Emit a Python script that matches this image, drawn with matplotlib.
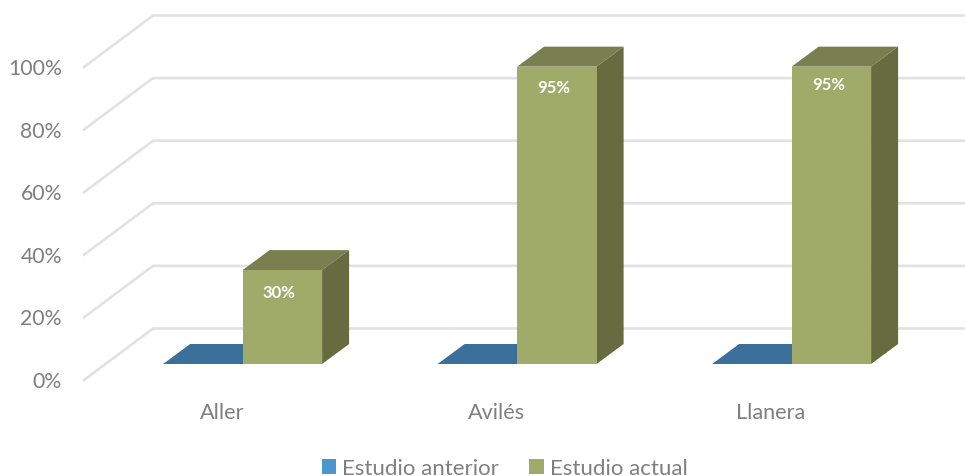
import matplotlib
matplotlib.use("Agg")
import matplotlib.pyplot as plt
from matplotlib.patches import Polygon

plt.rcParams['font.family'] = ['Lato', 'DejaVu Sans']

categories = ["Aller", "Avilés", "Llanera"]
estudio_anterior = [0, 0, 0]
estudio_actual = [30, 95, 95]
label_drop_px = [22, 20, 17]
y_ticks = [0, 20, 40, 60, 80, 100]

W, H = 965, 477
PX_PER_CAT = 274.5
PX_PER_PCT = 3.13
X0 = 222.0      # pixel of category 0
Y0 = 365.0      # pixel of 0 % in the bar plane
BAR_W = 79.5 / PX_PER_CAT
DX, DY = 27 / PX_PER_CAT, 20 / PX_PER_PCT   # depth of a bar
GRID_COL = "#e2e2e2"
TXT_COL = "#7f7f7f"
fig = plt.figure(figsize=(W / 100, H / 100), dpi=100)
ax = fig.add_axes([0, 0, 1, 1])
ax.set_xlim(-X0 / PX_PER_CAT, (W - X0) / PX_PER_CAT)
ax.set_ylim((Y0 - H) / PX_PER_PCT, Y0 / PX_PER_PCT)
ax.axis("off")

cx = lambda p: (p - X0) / PX_PER_CAT
# Walls
back_dy = (Y0 - 329.5) / PX_PER_PCT
front_dy = (Y0 - 381) / PX_PER_PCT
for t in y_ticks:
    ax.plot([cx(84), cx(153), cx(965)],
            [t + front_dy, t + back_dy, t + back_dy],
            color=GRID_COL, lw=1.9, zorder=1, solid_joinstyle="miter")
    ax.text(cx(62), t + front_dy - 0.3, f"{t}%", ha="right", va="center",
            fontsize=15.3, color=TXT_COL)


def box(x_left, width, v, front, top, side, z):
    x_right = x_left + width
    ax.add_patch(Polygon([(x_left, v), (x_right, v), (x_right + DX, v + DY), (x_left + DX, v + DY)],
                         closed=True, fc=top, ec="none", zorder=z))
    if v > 0:
        ax.add_patch(Polygon([(x_right, 0), (x_right + DX, DY), (x_right + DX, v + DY), (x_right, v)],
                             closed=True, fc=side, ec="none", zorder=z))


xs = list(range(len(categories)))
x_blue = [x - BAR_W + cx(242.6) for x in xs]
x_green = [x + cx(242.6) for x in xs]

b1 = ax.bar(x_blue, estudio_anterior, BAR_W, align="edge", color="#4a96cf",
            label="Estudio anterior", zorder=3)
b2 = ax.bar(x_green, estudio_actual, BAR_W, align="edge", color="#a1ab69",
            label="Estudio actual", zorder=5)

for x, v in zip(x_blue, estudio_anterior):
    box(x, BAR_W, v, "#4a96cf", "#3a7099", "#2f5c7f", 2)
for x, v in zip(x_green, estudio_actual):
    box(x, BAR_W, v, "#a1ab69", "#7a7f50", "#666c40", 4)

for x, v, d in zip(x_green, estudio_actual, label_drop_px):
    ax.text(x + BAR_W / 2 - 3 / PX_PER_CAT, v - d / PX_PER_PCT, f"{v}%", ha="center", va="center",
            color="white", fontsize=12, fontweight="bold", zorder=6)

for x, c in zip(xs, categories):
    ax.text(x, (Y0 - 413.5) / PX_PER_PCT, c, ha="center", va="center",
            fontsize=15.6, color=TXT_COL)

leg = ax.legend(loc="center", bbox_to_anchor=(504.5 / W, 1 - 469.5 / H), bbox_transform=fig.transFigure,
                ncol=2, frameon=False, fontsize=16, labelcolor=TXT_COL,
                handlelength=0.65, handleheight=0.65, handletextpad=0.28, columnspacing=1.35,
                borderpad=0, borderaxespad=0)

fig.savefig("out.png", dpi=100)
